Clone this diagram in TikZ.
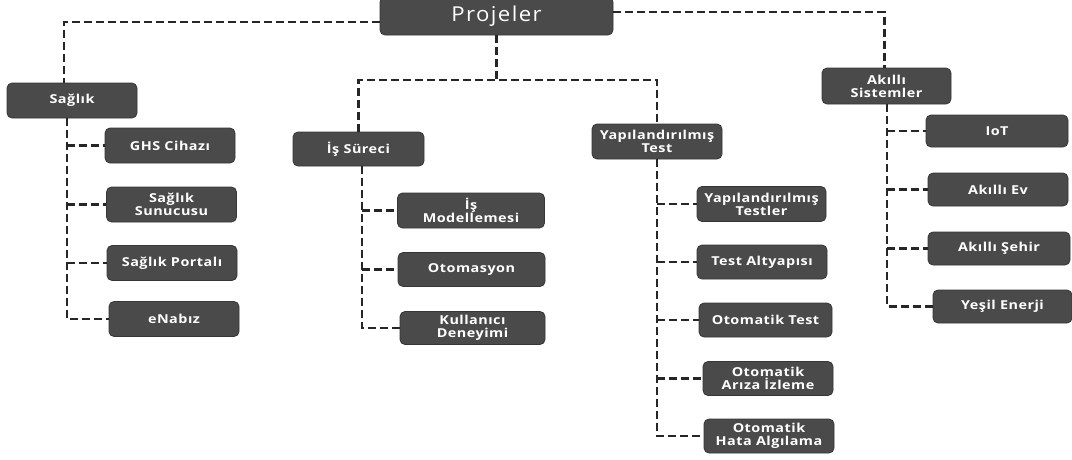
\documentclass[tikz,border=0pt]{standalone}
\usepackage{fontspec}
\setmainfont{Open Sans}
\newfontfamily\boxfont[FakeStretch=1.17,LetterSpace=4]{Open Sans}
\newfontfamily\topfont[FakeStretch=1.08,LetterSpace=7]{Open Sans}
\definecolor{boxfill}{HTML}{4A4A4A}
\definecolor{boxedge}{HTML}{363636}
\definecolor{linecol}{HTML}{262626}
\begin{document}
\begin{tikzpicture}[x=1pt,y=-1pt,
  box/.style={draw=boxedge, line width=0.8pt, fill=boxfill, rounded corners=5pt,
    text=white, align=center, inner sep=1pt,
    font=\boxfont\bfseries\fontsize{12.3}{12.8}\selectfont},
  conn/.style={draw=linecol, line width=2.3pt, dash pattern=on 8pt off 4pt}]
\useasboundingbox (0,0) rectangle (1072,459);
% top
\node[box, minimum width=233, minimum height=38, font=\topfont\fontsize{20.5}{21}\selectfont] (proj) at (496.5,16) {Projeler};
% level 2
\node[box, minimum width=130, minimum height=35] (saglik) at (72,100.5) {Sağlık};
\node[box, minimum width=131, minimum height=34] (is) at (358.5,149) {İş Süreci};
\node[box, minimum width=130, minimum height=35] (yt) at (657,141.5) {Yapılandırılmış\\Test};
\node[box, minimum width=129, minimum height=36] (akilli) at (886.5,86) {Akıllı\\Sistemler};
% Saglik children
\node[box, minimum width=130, minimum height=35] (ghs) at (170,145.5) {GHS Cihazı};
\node[box, minimum width=130, minimum height=35] (sunucu) at (171.5,204.5) {Sağlık\\Sunucusu};
\node[box, minimum width=130, minimum height=35] (portal) at (172,263) {Sağlık Portalı};
\node[box, minimum width=130, minimum height=35] (enabiz) at (174,319) {eNabız};
% Is Sureci children
\node[box, minimum width=147, minimum height=35] (model) at (471,210.5) {İş\\Modellemesi};
\node[box, minimum width=147, minimum height=34] (otomasyon) at (471.5,269.5) {Otomasyon};
\node[box, minimum width=145, minimum height=33] (kullanici) at (472.5,328) {Kullanıcı\\Deneyimi};
% Yapilandirilmis Test children
\node[box, minimum width=129, minimum height=35] (ytestler) at (761.5,204) {Yapılandırılmış\\Testler};
\node[box, minimum width=130, minimum height=34] (altyapi) at (762,262) {Test Altyapısı};
\node[box, minimum width=133, minimum height=34] (otest) at (765.5,320) {Otomatik Test};
\node[box, minimum width=130, minimum height=34] (ariza) at (768,378.5) {Otomatik\\Arıza İzleme};
\node[box, minimum width=130, minimum height=34] (hata) at (769,436) {Otomatik\\Hata Algılama};
% Akilli children
\node[box, minimum width=142, minimum height=32] (iot) at (997,131) {IoT};
\node[box, minimum width=140, minimum height=33] (ev) at (998,189.5) {Akıllı Ev};
\node[box, minimum width=142, minimum height=33] (sehir) at (999,248.5) {Akıllı Şehir};
\node[box, minimum width=139, minimum height=33] (yesil) at (1002.5,306.5) {Yeşil Enerji};
% top connectors
\draw[conn] ([yshift=-6pt]proj.west) -| ([xshift=-8pt]saglik.north);
\draw[conn] ([yshift=4pt]proj.east) -| ([xshift=-2pt]akilli.north);
\coordinate (mid) at (proj.south |- 0,80);
\draw[conn] (proj.south) -- (mid);
\draw[conn] (is.north) |- (mid) -| (yt.north);
% trunks
\coordinate (st) at (67,118);
\draw[conn] (st) |- (enabiz.west);
\foreach \n in {ghs,sunucu,portal} \draw[conn] (\n.west -| st) -- (\n.west);
\coordinate (it) at (362,166);
\draw[conn] (it) |- (kullanici.west);
\foreach \n in {model,otomasyon} \draw[conn] (\n.west -| it) -- (\n.west);
\coordinate (yt0) at (657,159);
\draw[conn] (yt0) |- (hata.west);
\foreach \n in {ytestler,altyapi,otest,ariza} \draw[conn] (\n.west -| yt0) -- (\n.west);
\coordinate (at) at (887,104);
\draw[conn] (at) |- (yesil.west);
\foreach \n in {iot,ev,sehir} \draw[conn] (\n.west -| at) -- (\n.west);
\end{tikzpicture}
\end{document}
